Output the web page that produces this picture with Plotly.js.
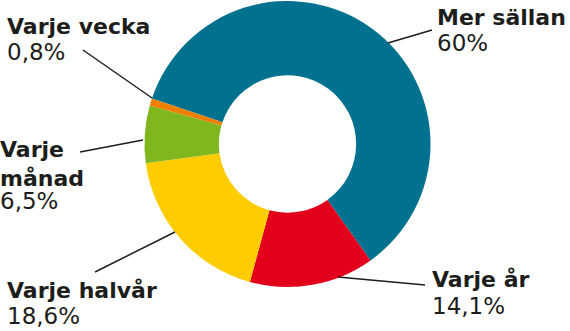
<!DOCTYPE html>
<html><head><meta charset="utf-8">
<script src="https://cdn.plot.ly/plotly-3.0.1.min.js"></script>
<style>html,body{margin:0;padding:0;background:#fff}#chart{width:570px;height:331px}</style>
</head><body><div id="chart"></div>
<script>
const categories = ["Mer sällan", "Varje år", "Varje halvår", "Varje månad", "Varje vecka"];
const labelNames = ["Mer sällan", "Varje år", "Varje halvår", "Varje<br>månad", "Varje vecka"];
const values = [60, 14.1, 18.6, 6.5, 0.8];
const valueLabels = ["60%", "14,1%", "18,6%", "6,5%", "0,8%"];
const colors = ["#00728F", "#E2001A", "#FFCC00", "#80B71E", "#EE7F00"];

const W = 570, H = 331;
const FS = 22, FV = 23;
// label left x, name first baseline, value baseline (px)
const labelPos = [[436, 24, 50], [431, 286, 313], [6, 297, 323], [-1, 156, 208], [6, 33, 59]];
const leaders = [[388, 43, 432, 30], [338, 277, 425, 285], [95, 272, 175, 232], [80, 152, 143, 140], [83, 50, 152, 98]];

const px = x => x / W, py = y => 1 - y / H;
const annotations = [];
categories.forEach((c, i) => {
  const [lx, nb, vb] = labelPos[i];
  annotations.push({
    xref: 'paper', yref: 'paper', x: px(lx), y: py(nb - 0.93 * FS),
    xanchor: 'left', yanchor: 'top', align: 'left', showarrow: false, borderpad: 0,
    text: '<b>' + labelNames[i] + '</b>',
    font: {family: 'DejaVu Sans', size: FS, color: '#1d1d1b'}
  });
  annotations.push({
    xref: 'paper', yref: 'paper', x: px(lx), y: py(vb - 0.93 * FV),
    xanchor: 'left', yanchor: 'top', align: 'left', showarrow: false, borderpad: 0,
    text: valueLabels[i],
    font: {family: 'DejaVu Sans', size: FV, color: '#1d1d1b'}
  });
});
const shapes = leaders.map(l => ({
  type: 'line', xref: 'paper', yref: 'paper',
  x0: px(l[0]), y0: py(l[1]), x1: px(l[2]), y1: py(l[3]),
  line: {color: '#1d1d1b', width: 1.5}
}));

Plotly.newPlot('chart', [{
  type: 'pie', labels: categories, values: values, hole: 0.48,
  sort: false, direction: 'clockwise', rotation: -71.5,
  marker: {colors: colors, line: {width: 0}},
  textinfo: 'none', hoverinfo: 'label+value', showlegend: false,
  domain: {x: [0.0088, 1.0], y: [0.1329, 0.997]}
}], {
  width: W, height: H, margin: {l: 0, r: 0, t: 0, b: 0},
  paper_bgcolor: '#fff', showlegend: false,
  annotations: annotations, shapes: shapes
}, {displayModeBar: false, staticPlot: true});
</script></body></html>
